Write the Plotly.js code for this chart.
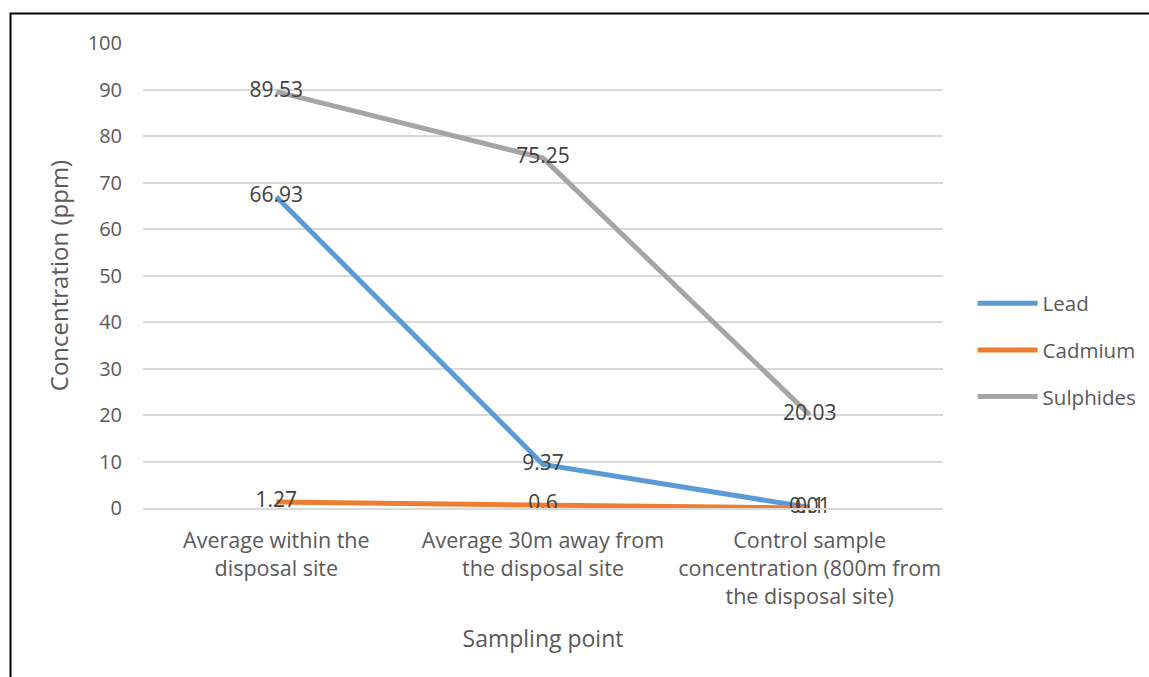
<!DOCTYPE html>
<html>
<head>
<meta charset="utf-8">
<script src="https://cdn.plot.ly/plotly-3.0.1.min.js"></script>
<style>
  html, body { margin: 0; padding: 0; background: #fff; }
  #chart { width: 1149px; height: 677px; }
</style>
</head>
<body>
<div id="chart"></div>
<script>
// Sampling points along the x axis
const samplingPoints = [
  "Average within the<br>disposal site",
  "Average 30m away from<br>the disposal site",
  "Control sample<br>concentration (800m from<br>the disposal site)"
];

// Measured concentrations, ppm
const lead = [66.93, 9.37, 0.1];
const cadmium = [1.27, 0.6, 0.01];
const sulphides = [89.53, 75.25, 20.03];

const seriesNames = ["Lead", "Cadmium", "Sulphides"];
const seriesColors = ["#5B9BD5", "#ED7D31", "#A5A5A5"];
const seriesValues = [lead, cadmium, sulphides];

const FONT = "'Open Sans', 'Noto Sans', sans-serif";

const traces = [];
seriesValues.forEach((vals, i) => {
  traces.push({
    type: "scatter",
    mode: "lines",
    x: samplingPoints,
    y: vals,
    name: seriesNames[i],
    legendgroup: seriesNames[i],
    line: { color: seriesColors[i], width: 5 },
    hoverinfo: "x+y+name"
  });
});
// value labels sit above every line
seriesValues.forEach((vals, i) => {
  traces.push({
    type: "scatter",
    mode: "text",
    x: samplingPoints,
    y: vals,
    text: vals.map(v => String(v)),
    textposition: "middle center",
    textfont: { family: FONT, size: 21, color: "#404040" },
    showlegend: false,
    hoverinfo: "skip",
    cliponaxis: false
  });
});

const layout = {
  width: 1149,
  height: 677,
  paper_bgcolor: "#ffffff",
  plot_bgcolor: "#ffffff",
  margin: { l: 143, r: 206, t: 43, b: 169, autoexpand: false },
  font: { family: FONT, size: 20, color: "#595959" },
  showlegend: true,
  legend: {
    x: 1.037, xanchor: "left",
    y: 0.34, yanchor: "middle",
    font: { family: FONT, size: 20.5, color: "#595959" },
    itemwidth: 60,
    tracegroupgap: 17,
    traceorder: "grouped",
    bgcolor: "rgba(0,0,0,0)"
  },
  xaxis: {
    type: "category",
    range: [-0.5, 2.5],
    showgrid: false,
    showline: true,
    linecolor: "#D9D9D9",
    linewidth: 2,
    ticks: "",
    tickfont: { family: FONT, size: 21.5, color: "#595959" },
    ticklabelstandoff: 12,
    title: { text: "Sampling point", font: { family: FONT, size: 23, color: "#595959" }, standoff: 22 },
    fixedrange: true
  },
  yaxis: {
    range: [0, 100],
    tickvals: [0, 10, 20, 30, 40, 50, 60, 70, 80, 90, 100],
    showgrid: true,
    gridcolor: "#D9D9D9",
    gridwidth: 2,
    zeroline: false,
    showline: false,
    ticks: "",
    tickfont: { family: FONT, size: 20, color: "#595959" },
    ticklabelstandoff: 20,
    title: { text: "Concentration (ppm)", font: { family: FONT, size: 24, color: "#595959" }, standoff: 12 },
    fixedrange: true
  },
  shapes: [
    {
      type: "rect", xref: "paper", yref: "paper",
      x0: -0.1656, x1: 1.6, y0: -1, y1: 1.0634,
      line: { color: "#000000", width: 2 },
      fillcolor: "rgba(0,0,0,0)",
      layer: "above"
    }
  ]
};

Plotly.newPlot("chart", traces, layout, { displayModeBar: false, staticPlot: true });
</script>
</body>
</html>
